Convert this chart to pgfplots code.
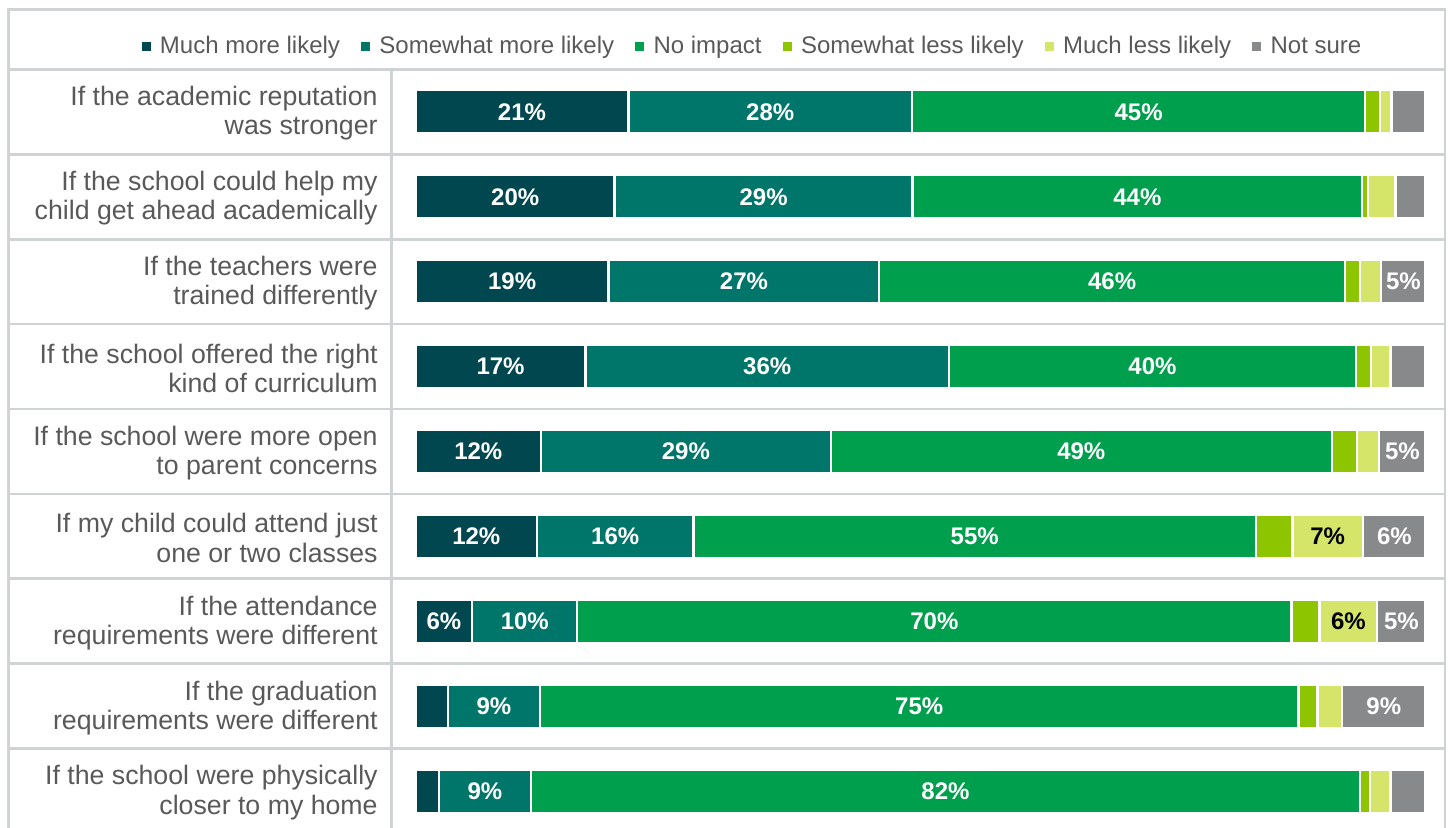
\documentclass[border=0pt]{standalone}
\usepackage{pgfplots}
\pgfplotsset{compat=1.18}
\usepackage{pgfplotstable}
\usepackage{fontspec}
\setmainfont{Liberation Sans}
\definecolor{cA}{HTML}{00474F}
\definecolor{cB}{HTML}{00756A}
\definecolor{cC}{HTML}{009F4D}
\definecolor{cD}{HTML}{8DC500}
\definecolor{cE}{HTML}{D5E56A}
\definecolor{cF}{HTML}{87898B}
\definecolor{gridc}{HTML}{D0D3D4}
\definecolor{txt}{HTML}{595959}

\pgfplotstableread{
y a b c d e f la lb lc ld le lf
0 21.05 28.1 44.85 1.5 1.1 3.4 21\% 28\% 45\% {} {} {}
1 19.7 29.5 44.5 0.6 2.7 3.0 20\% 29\% 44\% {} {} {}
2 19.1 26.8 46.1 1.5 2.1 4.4 19\% 27\% 46\% {} {} 5\%
3 16.8 36.0 40.3 1.5 1.9 3.5 17\% 36\% 40\% {} {} {}
4 12.4 28.7 49.6 2.5 2.2 4.6 12\% 29\% 49\% {} {} 5\%
5 12.0 15.5 55.7 3.6 7.0 6.2 12\% 16\% 55\% {} 7\% 6\%
6 5.6 10.4 70.7 2.8 5.7 4.8 6\% 10\% 70\% {} 6\% 5\%
7 3.2 9.1 75.1 1.9 2.4 8.3 {} 9\% 75\% {} {} 9\%
8 2.3 9.1 82.1 1.0 2.0 3.5 {} 9\% 82\% {} {} {}
}\data
\pgfplotstablecreatecol[create col/expr={\thisrow{a}/2}]{ca}\data
\pgfplotstablecreatecol[create col/expr={\thisrow{a}+\thisrow{b}/2}]{cb}\data
\pgfplotstablecreatecol[create col/expr={\thisrow{a}+\thisrow{b}+\thisrow{c}/2}]{cc}\data
\pgfplotstablecreatecol[create col/expr={\thisrow{a}+\thisrow{b}+\thisrow{c}+\thisrow{d}/2}]{cd}\data
\pgfplotstablecreatecol[create col/expr={\thisrow{a}+\thisrow{b}+\thisrow{c}+\thisrow{d}+\thisrow{e}/2}]{ce}\data
\pgfplotstablecreatecol[create col/expr={\thisrow{a}+\thisrow{b}+\thisrow{c}+\thisrow{d}+\thisrow{e}+\thisrow{f}/2}]{cf}\data

\pgfplotsset{
  seg/.style={fill=#1, draw=white, line width=1.2pt},
  lab/.style={draw=none, mark=none, point meta=explicit symbolic,
    nodes near coords,
    every node near coord/.append style={anchor=center, text=#1,
      font=\bfseries\fontsize{12pt}{12pt}\selectfont, inner sep=0pt}},
  common/.style={
    at={(207.85pt,-34.7pt)}, anchor=north west,
    scale only axis, width=505pt, height=382.05pt,
    xmin=0, xmax=100, ymin=-0.5, ymax=8.5, y dir=reverse,
    clip=false},
}

\begin{document}
\begin{tikzpicture}[x=0.5pt,y=-0.5pt]
\useasboundingbox (0,0) rectangle (1448,828);
\begin{scope}[draw=gridc, line width=1.35pt]
\draw (8.7,900) -- (8.7,9.5) -- (1445,9.5) -- (1445,900);
\draw (8.7,69.7) -- (1445,69.7);
\foreach \k in {0,...,7} \draw (8.7,154.3+84.9*\k) -- (1445,154.3+84.9*\k);
\draw (391.7,69.7) -- (391.7,900);
\end{scope}
\begin{axis}[common,
  xbar stacked, bar width=21.7pt,
  axis line style={draw=none}, major tick style={draw=none},
  xtick=\empty,
  ytick={0,...,8},
  yticklabels={{If the academic reputation\\was stronger},
    {If the school could help my\\child get ahead academically},
    {If the teachers were\\trained differently},
    {If the school offered the right\\kind of curriculum},
    {If the school were more open\\to parent concerns},
    {If my child could attend just\\one or two classes},
    {If the attendance\\requirements were different},
    {If the graduation\\requirements were different},
    {If the school were physically\\closer to my home}},
  yticklabel style={align=right, text=txt, inner sep=0pt, xshift=-18.85pt, yshift=-0.8pt,
    font=\fontsize{13.35pt}{14.6pt}\selectfont},
  legend columns=6,
  legend image code/.code={\fill[#1,draw=none] (0pt,-2.25pt) rectangle (4.5pt,2.25pt); \path (6.5pt,0pt);},
  legend style={at={(0.3345,1.030)}, anchor=center, draw=none, fill=none,
    font=\fontsize{12pt}{13pt}\selectfont, text=txt,
    /tikz/every even column/.append style={column sep=8.6pt}},
]
\addplot[seg=cA] table[x=a, y=y] {\data};
\addplot[seg=cB] table[x=b, y=y] {\data};
\addplot[seg=cC] table[x=c, y=y] {\data};
\addplot[seg=cD] table[x=d, y=y] {\data};
\addplot[seg=cE] table[x=e, y=y] {\data};
\addplot[seg=cF] table[x=f, y=y] {\data};
\legend{Much more likely, Somewhat more likely, No impact, Somewhat less likely, Much less likely, Not sure}
\end{axis}
\begin{axis}[common, hide axis]
\addplot[lab=white] table[x=ca, y=y, meta=la] {\data};
\addplot[lab=white] table[x=cb, y=y, meta=lb] {\data};
\addplot[lab=white] table[x=cc, y=y, meta=lc] {\data};
\addplot[lab=white] table[x=cd, y=y, meta=ld] {\data};
\addplot[lab=black] table[x=ce, y=y, meta=le] {\data};
\addplot[lab=white] table[x=cf, y=y, meta=lf] {\data};
\end{axis}
\end{tikzpicture}
\end{document}
